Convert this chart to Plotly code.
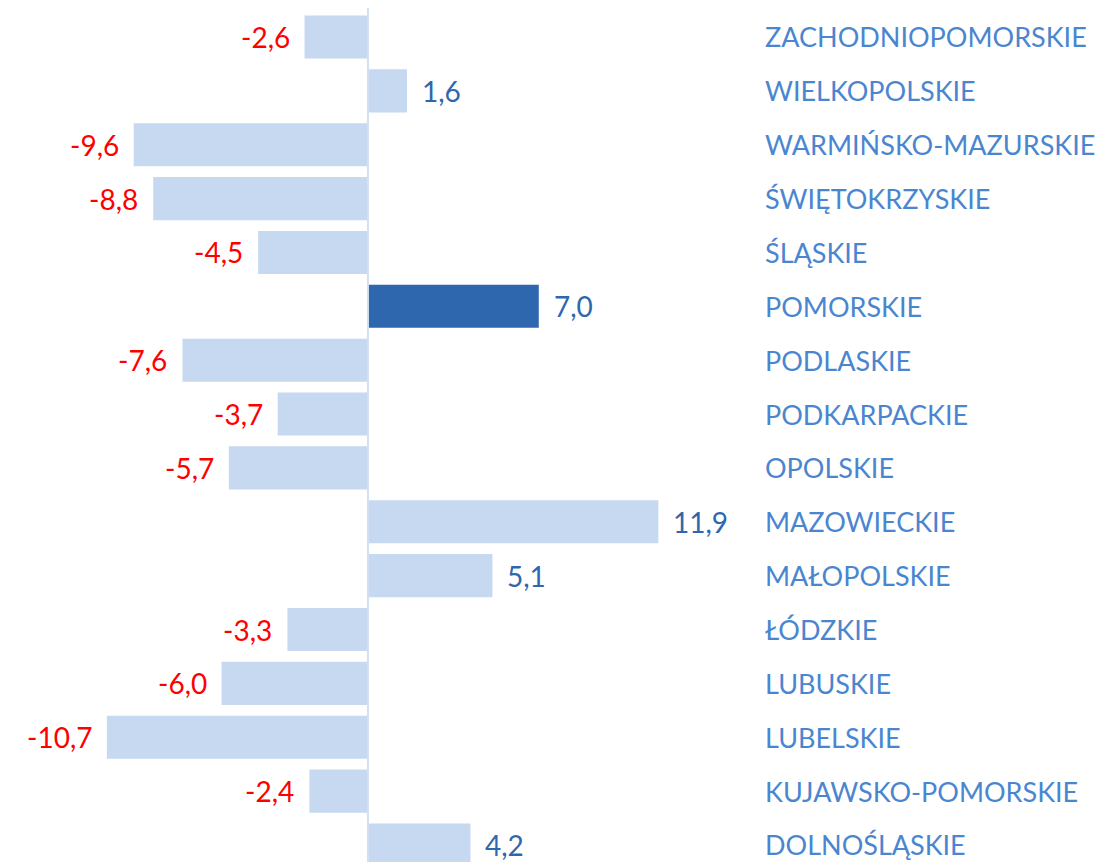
import plotly.graph_objects as go

# Data (bottom to top, as plotted)
regions = ["DOLNOŚLĄSKIE", "KUJAWSKO-POMORSKIE", "LUBELSKIE", "LUBUSKIE", "ŁÓDZKIE",
           "MAŁOPOLSKIE", "MAZOWIECKIE", "OPOLSKIE", "PODKARPACKIE", "PODLASKIE",
           "POMORSKIE", "ŚLĄSKIE", "ŚWIĘTOKRZYSKIE", "WARMIŃSKO-MAZURSKIE",
           "WIELKOPOLSKIE", "ZACHODNIOPOMORSKIE"]
values = [4.2, -2.4, -10.7, -6.0, -3.3, 5.1, 11.9, -5.7, -3.7, -7.6,
          7.0, -4.5, -8.8, -9.6, 1.6, -2.6]
highlight = "POMORSKIE"

FONT = "Lato"
LIGHT = "#C6D9F0"
DARK = "#2E67AE"
LABEL_BLUE = "#2E67AE"
CAT_BLUE = "#4A86D0"
RED = "#FF0000"

ypos = list(range(len(regions)))
colors = [DARK if r == highlight else LIGHT for r in regions]

fig = go.Figure()
fig.add_trace(go.Bar(
    x=values, y=ypos, orientation="h",
    marker=dict(color=colors, line=dict(width=0)),
    width=0.8, hoverinfo="skip",
))

annotations = []
for y, v, r in zip(ypos, values, regions):
    txt = f"{v:.1f}".replace(".", ",")
    annotations.append(dict(
        x=v, y=y, xref="x", yref="y", text=txt, showarrow=False,
        xanchor="left" if v >= 0 else "right",
        xshift=13 if v >= 0 else -13,
        font=dict(family=FONT, size=28, color=LABEL_BLUE if v >= 0 else RED),
    ))
    annotations.append(dict(
        x=0.689, y=y, xref="paper", yref="y", text=r, showarrow=False,
        xanchor="left",
        font=dict(family=FONT, size=27, color=CAT_BLUE),
    ))

fig.add_shape(type="line", xref="x", yref="y", x0=0, x1=0, y0=-0.5, y1=len(regions) - 0.45,
              line=dict(color="#D3E0F1", width=2), layer="above")

fig.update_layout(
    width=1096, height=854,
    margin=dict(l=0, r=0, t=0, b=0),
    paper_bgcolor="white", plot_bgcolor="white",
    showlegend=False,
    xaxis=dict(range=[-14.75, 30.16], visible=False, fixedrange=True),
    yaxis=dict(range=[-0.316, 15.538], visible=False, fixedrange=True),
    annotations=annotations,
)

fig.write_html("out.html")
